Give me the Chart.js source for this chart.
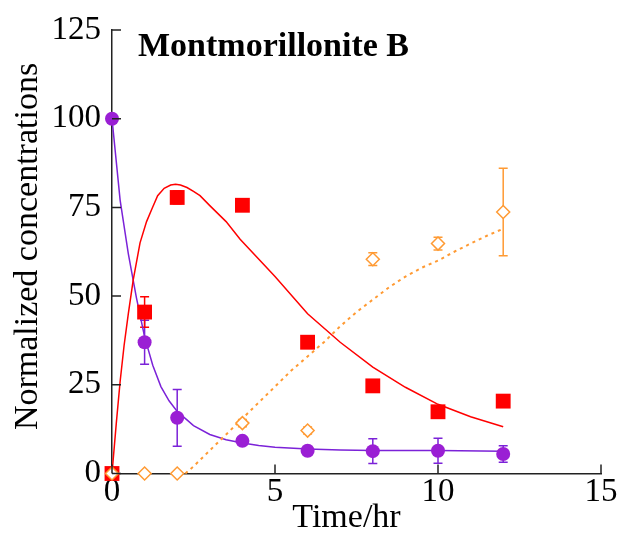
<!DOCTYPE html>
<html>
<head>
<meta charset="utf-8">
<script src="https://cdn.jsdelivr.net/npm/chart.js@4.4.1/dist/chart.umd.min.js"></script>
<style>
  html, body { margin: 0; padding: 0; background: #fff; }
  canvas { display: block; }
</style>
</head>
<body>
<canvas id="chart-montB" width="623" height="535"></canvas>
<script>
// measured points (sampling times in hr)
const times = [0, 1, 2, 4, 6, 8, 10, 12];
const reactant = [100, 37, 15.7, 9.2, 6.4, 6.3, 6.4, 5.5];
const reactantErr = [0, 6.2, 8, 1, 0.8, 3.5, 3.5, 2.3];
const intermediate = [0, 45.5, 77.8, 75.6, 37, 24.7, 17.4, 20.4];
const intermediateErr = [0, 4.3, 1.8, 1, 1, 1, 1, 1];
const product = [0, 0, 0, 14.2, 12.1, 60.4, 64.8, 73.7];
const productErr = [0, 0, 0, 1, 1, 1.8, 1.8, 12.3];

// model curves
const fitTimeA = [0, 0.25, 0.5, 0.75, 1, 1.25, 1.5, 1.75, 2, 2.5, 3, 3.5, 4, 4.5, 5, 6, 7, 8, 10, 12];
const fitA = [100, 77, 62, 49.5, 38.5, 30.5, 24.5, 20.5, 17.5, 13.5, 11, 9.5, 8.6, 7.9, 7.4, 6.9, 6.6, 6.5, 6.5, 6.3];
const fitTimeB = [0, 0.13, 0.25, 0.37, 0.5, 0.65, 0.86, 1.06, 1.22, 1.4, 1.6, 1.8, 1.95, 2.1, 2.3, 2.5, 2.7, 3, 3.5, 3.93, 5, 6, 7, 8, 9, 10, 11, 12];
const fitB = [0, 14, 26, 36, 45, 54.5, 65, 71, 74.5, 78.3, 80.4, 81.3, 81.5, 81.3, 80.6, 79.5, 78.3, 75.5, 71, 66, 55.5, 45, 37, 30, 24.3, 19.5, 16, 13.2];
const fitTimeC = [2.25, 2.5, 3, 3.5, 4, 4.5, 5, 5.5, 6, 6.5, 7, 7.5, 8, 8.5, 9, 9.5, 10, 10.5, 11, 11.5, 12];
const fitC = [0, 2, 6.5, 11, 15.5, 20, 24.5, 29, 33, 37, 41.5, 45.5, 49, 52.5, 55.5, 58, 60, 62.5, 64.8, 67, 69];

const xTicks = [0, 5, 10, 15];
const yTicks = [0, 25, 50, 75, 100, 125];
const title = 'Montmorillonite B';
const xTitle = 'Time/hr';
const yTitle = 'Normalized concentrations';

const PURPLE = '#9a1fd4';
const PURPLE_LINE = '#7b22d8';
const RED = '#ff0000';
const ORANGE = '#ff9a33';
const SERIF = '"Liberation Serif", "Times New Roman", serif';

const toXY = (xs, ys) => xs.map((x, i) => ({ x: x, y: ys[i] }));

// error bars, drawn from the data through the scales
const errorBars = {
  id: 'errorBars',
  beforeDatasetsDraw(chart) {
    const { ctx, scales: { x, y } } = chart;
    const sets = [
      [reactant, reactantErr, PURPLE_LINE],
      [intermediate, intermediateErr, RED],
      [product, productErr, ORANGE],
    ];
    ctx.save();
    ctx.lineWidth = 1.5;
    sets.forEach(([vals, errs, color]) => {
      ctx.strokeStyle = color;
      times.forEach((t, i) => {
        if (!errs[i]) return;
        const px = x.getPixelForValue(t);
        const top = y.getPixelForValue(vals[i] + errs[i]);
        const bot = y.getPixelForValue(vals[i] - errs[i]);
        ctx.beginPath();
        ctx.moveTo(px, top); ctx.lineTo(px, bot);
        ctx.moveTo(px - 4.5, top); ctx.lineTo(px + 4.5, top);
        ctx.moveTo(px - 4.5, bot); ctx.lineTo(px + 4.5, bot);
        ctx.stroke();
      });
    });
    ctx.restore();
  }
};

// inward tick marks, axis titles, panel label
const decorations = {
  id: 'decorations',
  afterDraw(chart) {
    const { ctx, scales: { x, y } } = chart;
    ctx.save();
    ctx.strokeStyle = '#222';
    ctx.lineWidth = 1.5;
    ctx.beginPath();
    yTicks.forEach(v => {
      const py = y.getPixelForValue(v);
      ctx.moveTo(x.left, py); ctx.lineTo(x.left + 9, py);
    });
    xTicks.forEach(v => {
      const px = x.getPixelForValue(v);
      ctx.moveTo(px, y.bottom); ctx.lineTo(px, y.bottom - 9);
    });
    ctx.stroke();

    ctx.fillStyle = '#000';
    ctx.textBaseline = 'middle';
    ctx.font = 'bold 34px ' + SERIF;
    ctx.fillText(title, 138, 47);

    ctx.textAlign = 'center';
    ctx.font = '34px ' + SERIF;
    ctx.fillText(xTitle, 346.5, 518);

    ctx.translate(28, 246.5);
    ctx.rotate(-Math.PI / 2);
    ctx.fillText(yTitle, 0, 0);
    ctx.restore();
  }
};

const ctx = document.getElementById('chart-montB').getContext('2d');

new Chart(ctx, {
  type: 'scatter',
  data: {
    datasets: [
      {
        label: 'product',
        data: toXY(times, product),
        pointStyle: 'rectRot',
        pointRadius: 6.5,
        pointBackgroundColor: '#fff',
        pointBorderColor: ORANGE,
        pointBorderWidth: 1.5,
        clip: false,
      },
      {
        label: 'intermediate',
        data: toXY(times, intermediate),
        pointStyle: 'rect',
        pointRadius: 10.5,
        pointBackgroundColor: RED,
        pointBorderColor: RED,
        pointBorderWidth: 0,
        clip: false,
      },
      {
        label: 'reactant',
        data: toXY(times, reactant),
        pointStyle: 'circle',
        pointRadius: 7,
        pointBackgroundColor: PURPLE,
        pointBorderColor: PURPLE,
        pointBorderWidth: 0,
        clip: false,
      },
      {
        label: 'fit product',
        data: toXY(fitTimeC, fitC),
        showLine: true,
        pointRadius: 0,
        borderColor: ORANGE,
        borderWidth: 2,
        borderDash: [3, 4],
        tension: 0,
        clip: false,
      },
      {
        label: 'fit intermediate',
        data: toXY(fitTimeB, fitB),
        showLine: true,
        pointRadius: 0,
        borderColor: RED,
        borderWidth: 1.5,
        tension: 0,
        clip: false,
      },
      {
        label: 'fit reactant',
        data: toXY(fitTimeA, fitA),
        showLine: true,
        pointRadius: 0,
        borderColor: PURPLE_LINE,
        borderWidth: 1.5,
        tension: 0,
        clip: false,
      },
    ],
  },
  options: {
    responsive: false,
    animation: false,
    events: [],
    layout: { padding: { top: 30, right: 22, left: 0, bottom: 0 } },
    plugins: {
      legend: { display: false },
      tooltip: { enabled: false },
    },
    scales: {
      x: {
        type: 'linear',
        min: 0,
        max: 15,
        afterBuildTicks: s => { s.ticks = xTicks.map(v => ({ value: v })); },
        afterFit: s => { s.height = 61.5; },
        grid: { display: false, drawTicks: false },
        border: { display: true, color: '#222', width: 1.5 },
        ticks: {
          color: '#000',
          padding: 2,
          maxRotation: 0,
          font: { family: SERIF, size: 33, lineHeight: 1 },
        },
        title: { display: false },
      },
      y: {
        type: 'linear',
        min: 0,
        max: 125,
        afterBuildTicks: s => { s.ticks = yTicks.map(v => ({ value: v })); },
        afterFit: s => { s.width = 112; },
        grid: { display: false, drawTicks: false },
        border: { display: true, color: '#222', width: 1.5 },
        ticks: {
          color: '#000',
          padding: 11,
          font: { family: SERIF, size: 33, lineHeight: 1 },
        },
        title: { display: false },
      },
    },
  },
  plugins: [errorBars, decorations],
});
</script>
</body>
</html>
